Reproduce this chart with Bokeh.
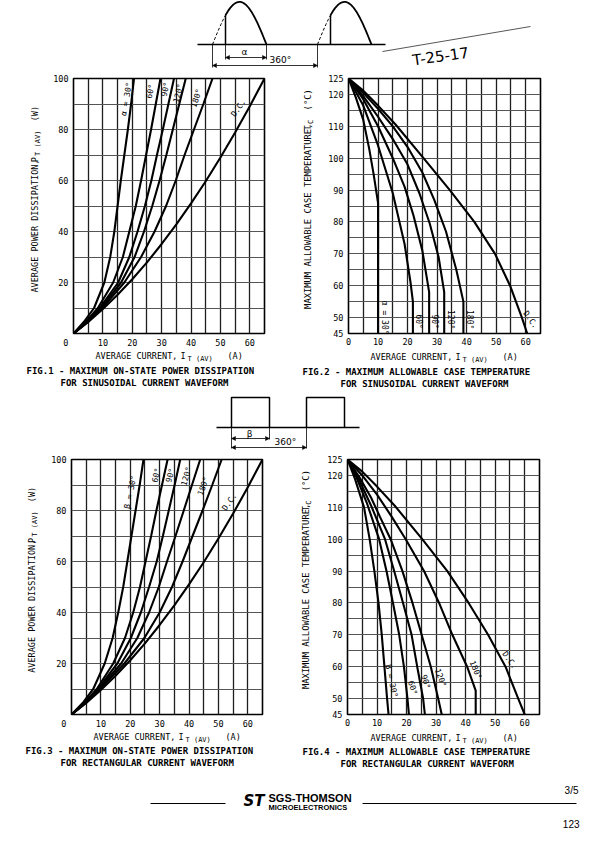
import numpy as np
from bokeh.plotting import figure
from bokeh.models import Range1d, FixedTicker, Label, Arrow, NormalHead
from bokeh.layouts import column, row
from bokeh.embed import file_html
from bokeh.resources import INLINE

# ------------------------------------------------------------------ data
X_TICKS_P = [0, 10, 20, 30, 40, 50, 60]         # current ticks, power charts
X_TICKS_T = [0, 10, 20, 30, 40, 50, 60]         # current ticks, temperature charts
P_TICKS = [20, 40, 60, 80, 100]
T_TICKS = [45, 50, 60, 70, 80, 90, 100, 110, 120, 125]
X_GRID = [5, 10, 15, 20, 25, 30, 35, 40, 45, 50, 55, 60]
P_GRID = [10, 20, 30, 40, 50, 60, 70, 80, 90]
T_GRID = [50, 55, 60, 65, 70, 75, 80, 85, 90, 95, 100, 105, 110, 115, 120]

# FIG.1 : sinusoidal, P_T(AV) vs I_T(AV)
P_LEVELS = [0, 4.5, 10, 20, 30, 40, 50, 60, 70, 80, 90, 100]
f1_i_30 = [0, 3.5, 7.0, 10.5, 12.5, 13.9, 15.0, 16.1, 17.3, 18.5, 19.6, 20.6]
f1_i_60 = [0, 4.2, 8.3, 13.5, 16.8, 19.0, 21.2, 23.0, 24.7, 26.4, 28.0, 29.6]
f1_i_90 = [0, 4.5, 8.9, 15.2, 19.0, 21.8, 24.3, 26.5, 28.4, 30.4, 32.3, 34.2]
f1_i_120 = [0, 4.7, 9.3, 16.2, 20.8, 24.0, 26.8, 29.3, 31.6, 33.8, 36.0, 38.2]
f1_i_180 = [0, 4.9, 9.8, 17.3, 23.0, 27.6, 31.5, 34.8, 37.8, 41.0, 44.2, 47.3]
f1_i_dc = [0, 5, 10, 15, 20, 25, 30, 35, 40, 45, 50, 55, 60, 65]
f1_p_dc = [0, 4.5, 9.6, 15.2, 21.3, 27.9, 35.1, 42.8, 51.0, 59.7, 69.0, 78.8, 89.1, 100]

# FIG.3 : rectangular, P_T(AV) vs I_T(AV)
f3_i_30 = [0, 3.8, 7.4, 11.3, 14.0, 15.9, 17.6, 19.0, 20.4, 21.8, 23.2, 24.5]
f3_i_60 = [0, 4.4, 8.6, 14.2, 18.2, 21.0, 23.3, 25.2, 27.1, 28.9, 30.8, 32.7]
f3_i_90 = [0, 4.6, 9.0, 15.6, 20.2, 23.6, 26.4, 29.0, 31.1, 33.1, 35.1, 37.0]
f3_i_120 = [0, 4.7, 9.3, 16.9, 22.4, 26.4, 29.7, 32.5, 35.4, 38.2, 41.0, 43.8]
f3_i_180 = [0, 4.9, 9.7, 18.0, 24.8, 30.0, 34.2, 37.8, 41.2, 44.6, 47.9, 51.1]
f3_i_dc = [0, 5, 10, 15, 20, 25, 30, 35, 40, 45, 50, 55, 60, 65]
f3_p_dc = [0, 4.5, 9.6, 15.2, 21.3, 27.9, 35.1, 42.8, 51.0, 59.7, 69.0, 78.8, 89.1, 100]

# FIG.2 : sinusoidal, T_C vs I_T(AV)
f2_i_30 = [0, 2.5, 5.0, 7.0, 8.5, 9.5, 10.0, 10.0]
f2_t_30 = [125, 119, 112, 103, 95, 89, 86, 45]
f2_i_60 = [0, 5, 10, 15, 19, 21, 21.8, 21.8]
f2_t_60 = [125, 116.5, 104, 89, 73, 61, 55, 45]
f2_i_90 = [0, 5, 10, 15, 19, 22, 25, 27.3, 27.3]
f2_t_90 = [125, 118.5, 110, 100, 91, 82, 71, 58, 45]
f2_i_120 = [0, 5, 10, 15, 20, 24, 27.5, 30.5, 32.4, 32.4]
f2_t_120 = [125, 119.5, 113, 106, 98, 89, 79.5, 69, 58, 45]
f2_i_180 = [0, 5, 10, 15, 20, 25, 29, 33, 36.5, 38.9, 38.9]
f2_t_180 = [125, 120.5, 115.5, 110, 103.5, 95.5, 87, 77, 65, 55, 45]
f2_i_dc = [0, 5, 10, 16, 25.4, 34.3, 42.6, 49.6, 54.7, 58.7, 60.5]
f2_t_dc = [125, 121.2, 116.5, 110.5, 100, 90, 80, 70, 60, 50, 45]

# FIG.4 : rectangular, T_C vs I_T(AV)
f4_i_30 = [0, 2.5, 5.6, 7.5, 9.1, 10.5, 11.6, 12.5, 13.4, 13.9]
f4_t_30 = [125, 119, 110, 100, 90, 80, 70, 60, 50, 45]
f4_i_60 = [0, 3, 6.5, 10.7, 13.2, 15.4, 17.5, 19.1, 20.3, 20.8]
f4_t_60 = [125, 119.5, 111.5, 100, 90, 80, 70, 60, 50, 45]
f4_i_90 = [0, 4, 8, 12.7, 15.8, 18.8, 21.7, 23.6, 25.6, 26.2]
f4_t_90 = [125, 118.5, 110.5, 100, 90, 80, 70, 60, 50, 45]
f4_i_120 = [0, 4, 8, 11, 14.6, 18.6, 22, 25.1, 28.2, 30.7, 31.9]
f4_t_120 = [125, 119.5, 113, 107, 100, 90, 80, 70, 60, 50, 45]
f4_i_180 = [0, 5, 10, 15, 19.7, 25.9, 31, 35.5, 40.5, 43.4, 43.4]
f4_t_180 = [125, 120, 114, 107, 100, 90, 80, 70, 60, 52.5, 45]
f4_i_dc = [0, 5, 10, 16, 25.3, 33.8, 41.0, 47.6, 53.5, 57.8, 60]
f4_t_dc = [125, 121.2, 116.5, 110.5, 100, 90, 80, 70, 60, 50, 45]

CURVE_NAMES = ["30°", "60°", "90°", "120°", "180°", "D.C."]

# ------------------------------------------------------------------ helpers
MONO = "DejaVu Sans Mono"
SANS = "Liberation Sans"
NB = "\u00a0"


def make_chart(page_x, page_y, w, h, bl, br, bt, bb, xr, yr, xticks, yticks, ygrid, zero_left=False):
    p = figure(width=w, height=h, x_range=Range1d(*xr), y_range=Range1d(*yr),
               output_backend="svg", toolbar_location=None,
               min_border_left=bl, min_border_right=br,
               min_border_top=bt, min_border_bottom=bb)
    p.outline_line_color = "black"
    p.outline_line_width = 1.6
    p.background_fill_color = "white"
    p.border_fill_color = "white"
    for ax, t in ((p.xaxis, xticks), (p.yaxis, yticks)):
        ax.ticker = FixedTicker(ticks=t)
        ax.axis_line_color = None
        ax.major_tick_line_color = None
        ax.minor_tick_line_color = None
        ax.major_tick_out = 0
        ax.major_tick_in = 0
        ax.minor_tick_out = 0
        ax.minor_tick_in = 0
        ax.major_label_text_font = MONO
        ax.major_label_text_font_size = "8.5px"
        ax.major_label_text_color = "black"
    if zero_left:
        # the common origin "0" sits left of the corner, as in the reference
        p.xaxis.major_label_overrides = {0: "0" + NB * 3}
    p.xaxis.major_label_standoff = 4
    p.yaxis.major_label_standoff = 5
    p.xgrid.ticker = FixedTicker(ticks=X_GRID)
    p.ygrid.ticker = FixedTicker(ticks=ygrid)
    p.xgrid.grid_line_color = "#1e1e1e"
    p.xgrid.grid_line_width = 1.3
    p.ygrid.grid_line_color = "#555555"
    p.ygrid.grid_line_width = 1.2
    geom = dict(fx0=page_x + bl, fx1=page_x + w - br, fy0=page_y + bt, fy1=page_y + h - bb,
                x0=xr[0], x1=xr[1], y0=yr[0], y1=yr[1])
    return p, geom


def plabel(p, g, px, py, text, size, style="normal", align="center", angle=0, font=MONO):
    """Curve tag at a page position, converted to the chart's data units."""
    x = g["x0"] + (px - g["fx0"]) / (g["fx1"] - g["fx0"]) * (g["x1"] - g["x0"])
    y = g["y0"] + (g["fy1"] - py) / (g["fy1"] - g["fy0"]) * (g["y1"] - g["y0"])
    p.add_layout(Label(x=x, y=y, text=text, text_font=font, text_font_size=f"{size}px",
                       text_font_style=style, text_align=align, text_baseline="middle",
                       angle=angle, angle_units="deg", text_color="black"))


def slabel(p, x, y, text, size, style="normal", align="left", angle=0, font=MONO, baseline="middle"):
    p.add_layout(Label(x=x, y=y, text=text, text_font=font, text_font_size=f"{size}px",
                       text_font_style=style, text_align=align, text_baseline=baseline,
                       angle=angle, angle_units="deg", text_color="black"))


def strip(x0, x1, y0, y1):
    """Plain drawing area whose data units are page pixels (y grows downwards)."""
    p = figure(width=x1 - x0, height=y1 - y0, x_range=Range1d(x0, x1),
               y_range=Range1d(y1, y0), output_backend="svg", toolbar_location=None,
               min_border_left=0, min_border_right=0, min_border_top=0, min_border_bottom=0,
               x_axis_location=None, y_axis_location=None)
    p.outline_line_color = None
    p.grid.visible = False
    p.background_fill_color = "white"
    p.border_fill_color = "white"
    return p


def dim_arrow(p, x0, x1, y):
    p.add_layout(Arrow(x_start=x0, y_start=y, x_end=x1, y_end=y, line_width=0.8,
                       start=NormalHead(size=4, line_color="black", fill_color="black", line_width=0.5),
                       end=NormalHead(size=4, line_color="black", fill_color="black", line_width=0.5)))


def x_title(p, px, py):
    slabel(p, px, py, "AVERAGE CURRENT,", 8.5)
    slabel(p, px + 85, py, "I", 8.5)
    slabel(p, px + 92, py + 3, "T (AV)", 7)
    slabel(p, px + 132, py, "(A)", 8.5)


def y_title_power(p, px, pb):
    slabel(p, px, pb, "AVERAGE POWER DISSIPATION,", 8.5, angle=90)
    slabel(p, px, pb - 143, "P", 8.5, angle=90)
    slabel(p, px + 3, pb - 150, "T (AV)", 7, angle=90)
    slabel(p, px, pb - 188, "(W)", 8.5, angle=90)


def y_title_temp(p, px, pb):
    slabel(p, px, pb, "MAXIMUM ALLOWABLE CASE TEMPERATURE,", 8.8, angle=90)
    slabel(p, px, pb - 196, "T", 8.8, angle=90)
    slabel(p, px + 3, pb - 203, "C", 7, angle=90)
    slabel(p, px, pb - 218, "(°C)", 8.8, angle=90)


def curves(p, xs_list, ys_list):
    for xs, ys in zip(xs_list, ys_list):
        p.line(xs, ys, line_color="black", line_width=2.1)


# page bands
TOP_B, BOT_B = 70, 350
TOP_D, BOT_D = 450, 731
PAGE_BOT = 840

# ------------------------------------------------------------------ FIG.1
f1, g1 = make_chart(45, TOP_B, 250, BOT_B - TOP_B, 28, 31, 6, 15, (0, 65), (0, 100),
                    X_TICKS_P, P_TICKS, P_GRID, zero_left=True)
curves(f1, [f1_i_30, f1_i_60, f1_i_90, f1_i_120, f1_i_180, f1_i_dc],
       [P_LEVELS] * 5 + [f1_p_dc])
for txt, px, py, ang in [("α = " + CURVE_NAMES[0], 126, 97, 80), (CURVE_NAMES[1], 150, 89, 78),
                         (CURVE_NAMES[2], 165, 87, 78), (CURVE_NAMES[3], 178, 91, 76),
                         (CURVE_NAMES[4], 196, 96, 72), (CURVE_NAMES[5], 238, 106, 55)]:
    plabel(f1, g1, px, py, txt, 8, angle=ang)
yt1 = strip(0, 45, TOP_B, BOT_B)
y_title_power(yt1, 34, 305)

# ------------------------------------------------------------------ FIG.2
f2, g2 = make_chart(320, TOP_B, 275, BOT_B - TOP_B, 28, 55, 8, 14, (0, 65), (45, 125),
                    X_TICKS_T, T_TICKS, T_GRID)
curves(f2, [f2_i_30, f2_i_60, f2_i_90, f2_i_120, f2_i_180, f2_i_dc],
       [f2_t_30, f2_t_60, f2_t_90, f2_t_120, f2_t_180, f2_t_dc])
for txt, px, py, ang in [("α = " + CURVE_NAMES[0], 383.5, 320, -90), (CURVE_NAMES[1], 418, 324, -90),
                         (CURVE_NAMES[2], 434, 324, -90), (CURVE_NAMES[3], 449.5, 322, -90),
                         (CURVE_NAMES[4], 469, 322, -90), (CURVE_NAMES[5], 530, 322, -55)]:
    plabel(f2, g2, px, py, txt, 8, angle=ang)
yt2 = strip(295, 320, TOP_B, BOT_B)
y_title_temp(yt2, 307, 323)

# ------------------------------------------------------------------ FIG.3
f3, g3 = make_chart(45, TOP_D, 250, BOT_D - TOP_D, 26, 33, 7, 16, (0, 65), (0, 100),
                    X_TICKS_P, P_TICKS, P_GRID, zero_left=True)
curves(f3, [f3_i_30, f3_i_60, f3_i_90, f3_i_120, f3_i_180, f3_i_dc],
       [P_LEVELS] * 5 + [f3_p_dc])
for txt, px, py, ang in [("β = " + CURVE_NAMES[0], 130, 490, 78), (CURVE_NAMES[1], 156, 473, 76),
                         (CURVE_NAMES[2], 170, 473, 75), (CURVE_NAMES[3], 186, 474, 74),
                         (CURVE_NAMES[4], 203, 484, 70), (CURVE_NAMES[5], 229, 500, 55)]:
    plabel(f3, g3, px, py, txt, 8, angle=ang)
yt3 = strip(0, 45, TOP_D, BOT_D)
y_title_power(yt3, 31, 685)

# ------------------------------------------------------------------ FIG.4
f4, g4 = make_chart(320, TOP_D, 275, BOT_D - TOP_D, 27, 56, 9, 14, (0, 65), (45, 125),
                    X_TICKS_T, T_TICKS, T_GRID)
curves(f4, [f4_i_30, f4_i_60, f4_i_90, f4_i_120, f4_i_180, f4_i_dc],
       [f4_t_30, f4_t_60, f4_t_90, f4_t_120, f4_t_180, f4_t_dc])
for txt, px, py, ang in [("β = " + CURVE_NAMES[0], 391, 683, -78), (CURVE_NAMES[1], 412, 690, -72),
                         (CURVE_NAMES[2], 425, 684, -72), (CURVE_NAMES[3], 440, 680, -70),
                         (CURVE_NAMES[4], 475, 672, -68), (CURVE_NAMES[5], 509, 662, -55)]:
    plabel(f4, g4, px, py, txt, 8, angle=ang)
yt4 = strip(295, 320, TOP_D, BOT_D)
y_title_temp(yt4, 305, 703)

# ------------------------------------------------------------------ top band: sinusoidal waveform sketch
sa = strip(0, 595, 0, TOP_B)
base = 44
amp = 42.6
sa.line([197, 385], [base, base], line_color="black", line_width=1.6)
for xs, xf, xe in [(212, 225, 266), (317, 330, 371)]:
    xd = np.linspace(xs, xf, 12)
    sa.line(xd, base - amp * np.sin(np.pi * (xd - xs) / (xe - xs)), line_color="black",
            line_width=1.0, line_dash="3 2")
    xc = np.linspace(xf, xe, 40)
    sa.line(xc, base - amp * np.sin(np.pi * (xc - xs) / (xe - xs)), line_color="black", line_width=1.8)
    sa.line([xf, xf], [base, base - amp * np.sin(np.pi * (xf - xs) / (xe - xs))],
            line_color="black", line_width=1.5)
for x, y1 in [(212, 67), (225, 59), (266, 59), (317, 67)]:
    sa.line([x, x], [base, y1], line_color="black", line_width=0.8)
dim_arrow(sa, 225, 266, 57)
dim_arrow(sa, 212, 317, 65)
slabel(sa, 244, 51, "α", 9, align="center", font="DejaVu Sans")
slabel(sa, 269, 59, "360°", 9, font="DejaVu Sans")
sa.line([382, 530], [51, 26], line_color="#444444", line_width=0.9)
slabel(sa, 412, 60, "T-25-17", 15, angle=8, font="DejaVu Sans", baseline="middle")

# ------------------------------------------------------------------ middle band: fig1/2 captions + rectangular sketch
sb = strip(0, 595, BOT_B, TOP_D)
x_title(sb, 95, 355)
x_title(sb, 370, 356)
slabel(sb, 26, 370, "FIG.1 - MAXIMUM ON-STATE POWER DISSIPATION", 9, style="bold")
slabel(sb, 60, 382, "FOR SINUSOIDAL CURRENT WAVEFORM", 9, style="bold")
slabel(sb, 302, 371, "FIG.2 - MAXIMUM ALLOWABLE CASE TEMPERATURE", 9, style="bold")
slabel(sb, 340, 383, "FOR SINUSOIDAL CURRENT WAVEFORM", 9, style="bold")
rb = 427
sb.line([216, 359], [rb, rb], line_color="black", line_width=1.5)
for x0, x1 in [(231, 269), (306, 344)]:
    sb.line([x0, x0, x1, x1], [rb, 397, 397, rb], line_color="black", line_width=1.5)
for x, y1 in [(231, 448), (269, 439), (306, 448)]:
    sb.line([x, x], [rb, y1], line_color="black", line_width=0.8)
dim_arrow(sb, 231, 269, 438)
dim_arrow(sb, 231, 306, 447)
slabel(sb, 249, 433, "β", 9, align="center", font="DejaVu Sans")
slabel(sb, 274, 441, "360°", 9, font="DejaVu Sans")

# ------------------------------------------------------------------ bottom band: fig3/4 captions + footer
se = strip(0, 595, BOT_D, PAGE_BOT)
x_title(se, 93, 736)
x_title(se, 370, 737)
slabel(se, 25, 750, "FIG.3 - MAXIMUM ON-STATE POWER DISSIPATION", 9, style="bold")
slabel(se, 60, 762, "FOR RECTANGULAR CURRENT WAVEFORM", 9, style="bold")
slabel(se, 302, 751, "FIG.4 - MAXIMUM ALLOWABLE CASE TEMPERATURE", 9, style="bold")
slabel(se, 340, 763, "FOR RECTANGULAR CURRENT WAVEFORM", 9, style="bold")
se.line([150, 225], [803, 803], line_color="black", line_width=1.0)
se.line([362, 576], [803, 803], line_color="black", line_width=1.0)
slabel(se, 243, 800, "ST", 15, style="bold italic", font="DejaVu Sans")
slabel(se, 268, 797, "SGS-THOMSON", 11, style="bold", font=SANS)
slabel(se, 268, 807, "MICROELECTRONICS", 7.5, style="bold", font=SANS)
slabel(se, 578, 790, "3/5", 10, align="right", font=SANS)
slabel(se, 579, 823, "123", 10, align="right", font=SANS)

layout = column(sa, row(yt1, f1, yt2, f2), sb, row(yt3, f3, yt4, f4), se)
open("out.html", "w").write(file_html(layout, INLINE, title="SGS-THOMSON thyristor curves"))
